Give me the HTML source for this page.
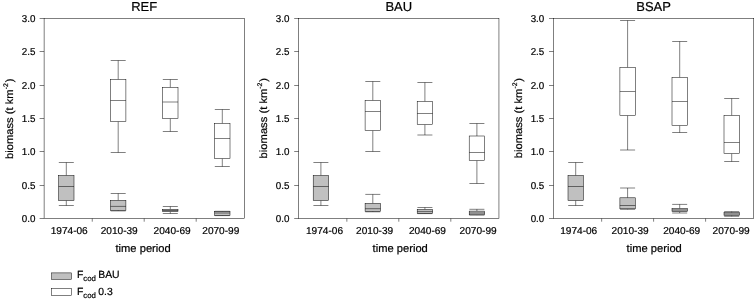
<!DOCTYPE html>
<html lang="en"><head><meta charset="utf-8"><title>Cod biomass box plots</title>
<style>html,body{margin:0;padding:0;background:#fff}body{width:756px;height:299px;overflow:hidden}svg{display:block}text{text-rendering:geometricPrecision;font-family:"Liberation Sans",Arial,sans-serif;fill:#000;stroke:#000;stroke-width:0.2px}</style>
</head><body>
<svg width="756" height="299" viewBox="0 0 756 299">
<rect width="756" height="299" fill="#fff"/>
<g stroke="#000" stroke-width="0.5" fill="none">
<path d="M118.20 60.50V79.50M118.20 121.50V152.50M110.70 60.50H125.70M110.70 152.50H125.70"/>
<rect x="110.50" y="79.50" width="15.40" height="42.00" fill="#ffffff"/>
<path d="M110.50 100.50H125.90"/>
<path d="M170.30 79.50V87.50M170.30 118.50V131.50M162.80 79.50H177.80M162.80 131.50H177.80"/>
<rect x="162.60" y="87.50" width="15.40" height="31.00" fill="#ffffff"/>
<path d="M162.60 102.00H178.00"/>
<path d="M222.30 109.50V123.50M222.30 158.50V166.50M214.80 109.50H229.80M214.80 166.50H229.80"/>
<rect x="214.60" y="123.50" width="15.40" height="35.00" fill="#ffffff"/>
<path d="M214.60 138.50H230.00"/>
<path d="M66.30 162.50V175.50M66.30 200.50V205.50M58.80 162.50H73.80M58.80 205.50H73.80"/>
<rect x="58.60" y="175.50" width="15.40" height="25.00" fill="#c0c0c0"/>
<path d="M58.60 186.50H74.00"/>
<path d="M118.20 193.50V200.40M118.20 210.30V210.90M110.70 193.50H125.70M110.70 210.90H125.70"/>
<rect x="110.50" y="200.40" width="15.40" height="9.90" fill="#c0c0c0"/>
<path d="M110.50 206.40H125.90"/>
<path d="M170.30 206.50V209.40M170.30 211.60V213.50M162.80 206.50H177.80M162.80 213.50H177.80"/>
<rect x="162.60" y="209.40" width="15.40" height="2.20" fill="#c0c0c0"/>
<path d="M162.60 210.50H178.00"/>
<path d="M222.30 211.30V211.60M222.30 215.30V215.60M214.80 211.30H229.80M214.80 215.60H229.80"/>
<rect x="214.60" y="211.60" width="15.40" height="3.70" fill="#c0c0c0"/>
<path d="M214.60 213.00H230.00"/>
<rect x="44.10" y="18.50" width="200.25" height="200.00"/>
<path d="M39.60 218.50H44.10M39.60 185.50H44.10M39.60 151.50H44.10M39.60 118.50H44.10M39.60 85.50H44.10M39.60 51.50H44.10M39.60 18.50H44.10M92.25 218.50V221.70M144.20 218.50V221.70M196.20 218.50V221.70"/>
</g>
<text transform="translate(35.50 222.00) scale(0.98 1.0)" font-size="10" text-anchor="end">0.0</text>
<text transform="translate(35.50 189.00) scale(0.98 1.0)" font-size="10" text-anchor="end">0.5</text>
<text transform="translate(35.50 155.00) scale(0.98 1.0)" font-size="10" text-anchor="end">1.0</text>
<text transform="translate(35.50 122.00) scale(0.98 1.0)" font-size="10" text-anchor="end">1.5</text>
<text transform="translate(35.50 89.00) scale(0.98 1.0)" font-size="10" text-anchor="end">2.0</text>
<text transform="translate(35.50 55.00) scale(0.98 1.0)" font-size="10" text-anchor="end">2.5</text>
<text transform="translate(35.50 22.00) scale(0.98 1.0)" font-size="10" text-anchor="end">3.0</text>
<text transform="translate(69.20 233.70) scale(1.01 1.0)" font-size="10" text-anchor="middle">1974-06</text>
<text transform="translate(119.20 233.70) scale(1.01 1.0)" font-size="10" text-anchor="middle">2010-39</text>
<text transform="translate(172.10 233.70) scale(1.01 1.0)" font-size="10" text-anchor="middle">2040-69</text>
<text transform="translate(220.80 233.70) scale(1.01 1.0)" font-size="10" text-anchor="middle">2070-99</text>
<text transform="translate(144.20 10.70)" font-size="13" text-anchor="middle">REF</text>
<text transform="translate(143.10 251.90) scale(1.015 1.0)" font-size="11.0" text-anchor="middle">time period</text>
<text transform="translate(12.80 118.80) rotate(-90) scale(1.057 1.0)" font-size="10.6" text-anchor="middle">biomass (t km<tspan font-size="6.6" dy="-4.6">-2</tspan><tspan dy="4.6" dx="0.7">)</tspan></text>
<g stroke="#000" stroke-width="0.5" fill="none">
<path d="M372.80 81.50V100.50M372.80 130.50V151.50M365.30 81.50H380.30M365.30 151.50H380.30"/>
<rect x="365.10" y="100.50" width="15.40" height="30.00" fill="#ffffff"/>
<path d="M365.10 111.50H380.50"/>
<path d="M424.90 82.50V101.50M424.90 124.50V135.00M417.40 82.50H432.40M417.40 135.00H432.40"/>
<rect x="417.20" y="101.50" width="15.40" height="23.00" fill="#ffffff"/>
<path d="M417.20 113.50H432.60"/>
<path d="M476.90 123.50V136.00M476.90 160.50V183.50M469.40 123.50H484.40M469.40 183.50H484.40"/>
<rect x="469.20" y="136.00" width="15.40" height="24.50" fill="#ffffff"/>
<path d="M469.20 152.50H484.60"/>
<path d="M320.90 162.50V175.50M320.90 200.50V205.50M313.40 162.50H328.40M313.40 205.50H328.40"/>
<rect x="313.20" y="175.50" width="15.40" height="25.00" fill="#c0c0c0"/>
<path d="M313.20 186.50H328.60"/>
<path d="M372.80 194.40V203.40M372.80 211.30V211.80M365.30 194.40H380.30M365.30 211.80H380.30"/>
<rect x="365.10" y="203.40" width="15.40" height="7.90" fill="#c0c0c0"/>
<path d="M365.10 208.70H380.50"/>
<path d="M424.90 207.50V209.50M424.90 213.30V213.60M417.40 207.50H432.40M417.40 213.60H432.40"/>
<rect x="417.20" y="209.50" width="15.40" height="3.80" fill="#c0c0c0"/>
<path d="M417.20 211.60H432.60"/>
<path d="M476.90 209.30V211.10M476.90 214.80V215.10M469.40 209.30H484.40M469.40 215.10H484.40"/>
<rect x="469.20" y="211.10" width="15.40" height="3.70" fill="#c0c0c0"/>
<path d="M469.20 213.00H484.60"/>
<rect x="298.70" y="18.50" width="200.25" height="200.00"/>
<path d="M294.20 218.50H298.70M294.20 185.50H298.70M294.20 151.50H298.70M294.20 118.50H298.70M294.20 85.50H298.70M294.20 51.50H298.70M294.20 18.50H298.70M346.85 218.50V221.70M398.80 218.50V221.70M450.80 218.50V221.70"/>
</g>
<text transform="translate(289.50 222.00) scale(0.98 1.0)" font-size="10" text-anchor="end">0.0</text>
<text transform="translate(289.50 189.00) scale(0.98 1.0)" font-size="10" text-anchor="end">0.5</text>
<text transform="translate(289.50 155.00) scale(0.98 1.0)" font-size="10" text-anchor="end">1.0</text>
<text transform="translate(289.50 122.00) scale(0.98 1.0)" font-size="10" text-anchor="end">1.5</text>
<text transform="translate(289.50 89.00) scale(0.98 1.0)" font-size="10" text-anchor="end">2.0</text>
<text transform="translate(289.50 55.00) scale(0.98 1.0)" font-size="10" text-anchor="end">2.5</text>
<text transform="translate(289.50 22.00) scale(0.98 1.0)" font-size="10" text-anchor="end">3.0</text>
<text transform="translate(324.50 233.70) scale(1.01 1.0)" font-size="10" text-anchor="middle">1974-06</text>
<text transform="translate(374.60 233.70) scale(1.01 1.0)" font-size="10" text-anchor="middle">2010-39</text>
<text transform="translate(427.45 233.70) scale(1.01 1.0)" font-size="10" text-anchor="middle">2040-69</text>
<text transform="translate(478.10 233.70) scale(1.01 1.0)" font-size="10" text-anchor="middle">2070-99</text>
<text transform="translate(398.80 10.70)" font-size="13" text-anchor="middle">BAU</text>
<text transform="translate(400.20 251.90) scale(1.015 1.0)" font-size="11.0" text-anchor="middle">time period</text>
<text transform="translate(267.00 118.20) rotate(-90) scale(1.057 1.0)" font-size="10.6" text-anchor="middle">biomass (t km<tspan font-size="6.6" dy="-4.6">-2</tspan><tspan dy="4.6" dx="0.7">)</tspan></text>
<g stroke="#000" stroke-width="0.5" fill="none">
<path d="M627.60 20.50V67.50M627.60 115.50V150.00M620.10 20.50H635.10M620.10 150.00H635.10"/>
<rect x="619.90" y="67.50" width="15.40" height="48.00" fill="#ffffff"/>
<path d="M619.90 91.50H635.30"/>
<path d="M679.70 41.50V77.50M679.70 125.50V132.50M672.20 41.50H687.20M672.20 132.50H687.20"/>
<rect x="672.00" y="77.50" width="15.40" height="48.00" fill="#ffffff"/>
<path d="M672.00 101.50H687.40"/>
<path d="M731.70 98.50V115.50M731.70 153.50V161.50M724.20 98.50H739.20M724.20 161.50H739.20"/>
<rect x="724.00" y="115.50" width="15.40" height="38.00" fill="#ffffff"/>
<path d="M724.00 142.50H739.40"/>
<path d="M575.70 162.50V175.50M575.70 200.50V205.50M568.20 162.50H583.20M568.20 205.50H583.20"/>
<rect x="568.00" y="175.50" width="15.40" height="25.00" fill="#c0c0c0"/>
<path d="M568.00 186.50H583.40"/>
<path d="M627.60 188.00V197.80M627.60 208.80V209.30M620.10 188.00H635.10M620.10 209.30H635.10"/>
<rect x="619.90" y="197.80" width="15.40" height="11.00" fill="#c0c0c0"/>
<path d="M619.90 205.50H635.30"/>
<path d="M679.70 204.40V208.50M679.70 211.70V213.00M672.20 204.40H687.20M672.20 213.00H687.20"/>
<rect x="672.00" y="208.50" width="15.40" height="3.20" fill="#c0c0c0"/>
<path d="M672.00 210.00H687.40"/>
<path d="M731.70 211.60V212.60M731.70 215.40V216.30M724.20 211.60H739.20M724.20 216.30H739.20"/>
<rect x="724.00" y="212.60" width="15.40" height="2.80" fill="#c0c0c0"/>
<path d="M724.00 214.00H739.40"/>
<rect x="553.50" y="18.50" width="200.25" height="200.00"/>
<path d="M549.00 218.50H553.50M549.00 185.50H553.50M549.00 151.50H553.50M549.00 118.50H553.50M549.00 85.50H553.50M549.00 51.50H553.50M549.00 18.50H553.50M601.65 218.50V221.70M653.60 218.50V221.70M705.60 218.50V221.70"/>
</g>
<text transform="translate(544.30 222.00) scale(0.98 1.0)" font-size="10" text-anchor="end">0.0</text>
<text transform="translate(544.30 189.00) scale(0.98 1.0)" font-size="10" text-anchor="end">0.5</text>
<text transform="translate(544.30 155.00) scale(0.98 1.0)" font-size="10" text-anchor="end">1.0</text>
<text transform="translate(544.30 122.00) scale(0.98 1.0)" font-size="10" text-anchor="end">1.5</text>
<text transform="translate(544.30 89.00) scale(0.98 1.0)" font-size="10" text-anchor="end">2.0</text>
<text transform="translate(544.30 55.00) scale(0.98 1.0)" font-size="10" text-anchor="end">2.5</text>
<text transform="translate(544.30 22.00) scale(0.98 1.0)" font-size="10" text-anchor="end">3.0</text>
<text transform="translate(578.70 233.70) scale(1.01 1.0)" font-size="10" text-anchor="middle">1974-06</text>
<text transform="translate(630.10 233.70) scale(1.01 1.0)" font-size="10" text-anchor="middle">2010-39</text>
<text transform="translate(681.70 233.70) scale(1.01 1.0)" font-size="10" text-anchor="middle">2040-69</text>
<text transform="translate(731.10 233.70) scale(1.01 1.0)" font-size="10" text-anchor="middle">2070-99</text>
<text transform="translate(653.60 10.70)" font-size="13" text-anchor="middle">BSAP</text>
<text transform="translate(654.20 251.90) scale(1.015 1.0)" font-size="11.0" text-anchor="middle">time period</text>
<text transform="translate(521.70 118.10) rotate(-90) scale(1.057 1.0)" font-size="10.6" text-anchor="middle">biomass (t km<tspan font-size="6.6" dy="-4.6">-2</tspan><tspan dy="4.6" dx="0.7">)</tspan></text>
<g stroke="#000" stroke-width="0.5">
<rect x="51.7" y="272.9" width="19.7" height="6.4" fill="#c0c0c0"/>
<rect x="51.7" y="288.6" width="19.7" height="6.7" fill="#fff"/>
</g>
<text x="76.9" y="278.3" font-size="10.4">F<tspan font-size="7.8" dy="2.9">cod</tspan><tspan dy="-2.9" dx="-0.5"> BAU</tspan></text>
<text x="76.9" y="294.7" font-size="10.4">F<tspan font-size="7.8" dy="2.9">cod</tspan><tspan dy="-2.9" dx="-0.5"> 0.3</tspan></text>
</svg></body></html>
